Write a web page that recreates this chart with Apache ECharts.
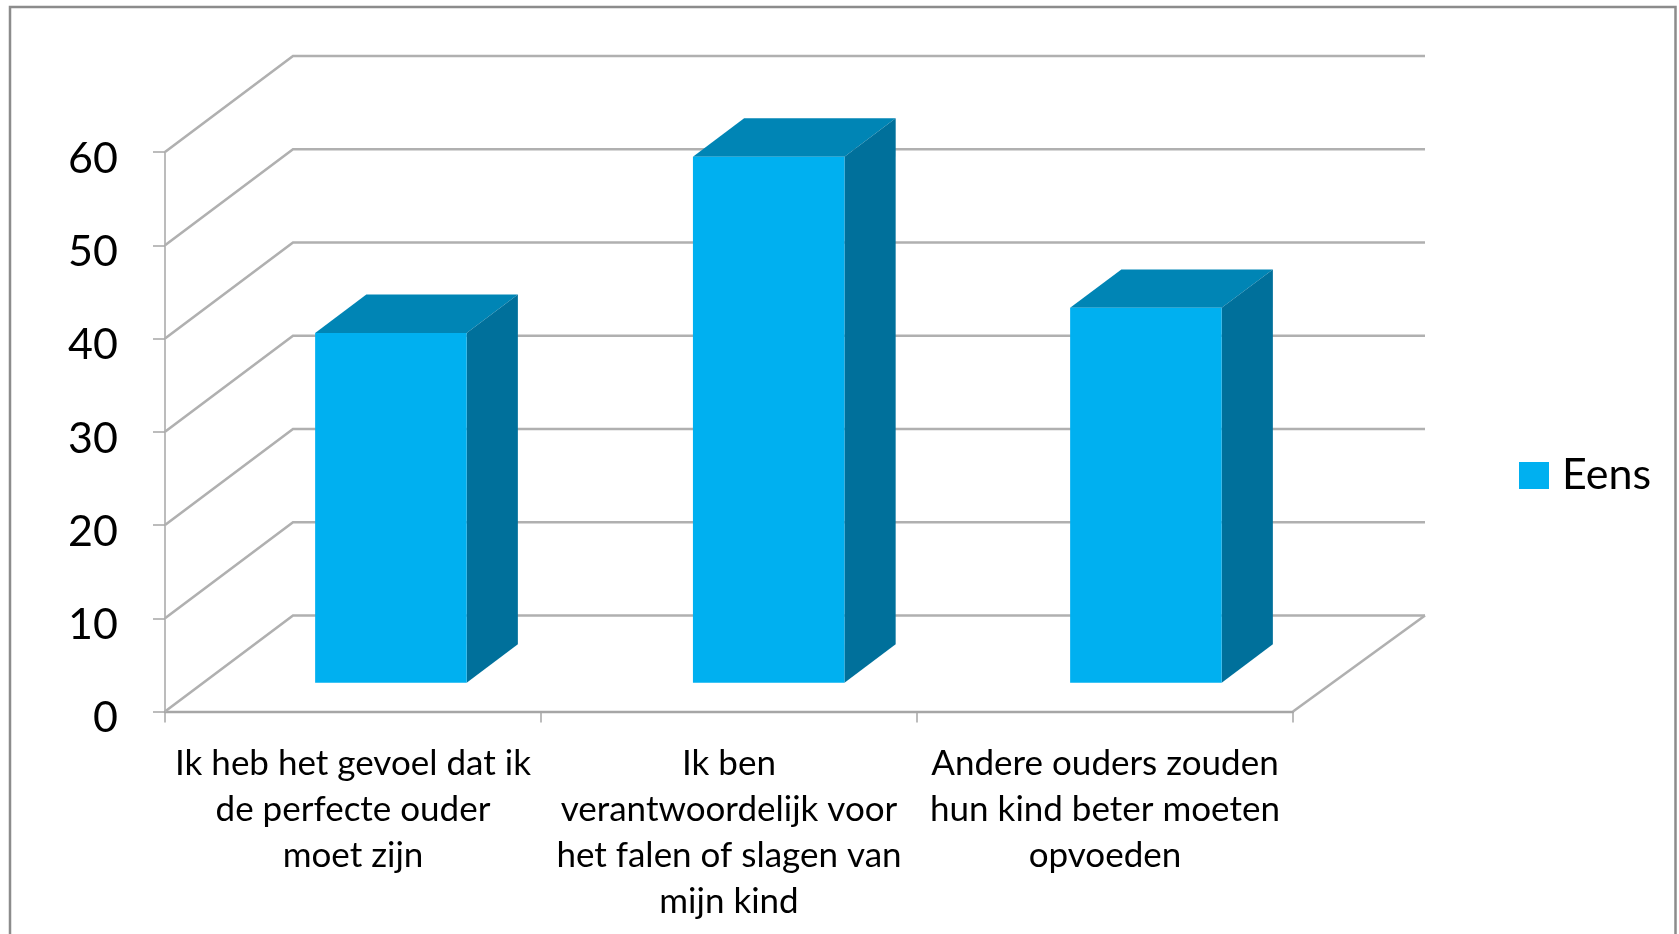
<!DOCTYPE html>
<html>
<head>
<meta charset="utf-8">
<style>html,body{margin:0;padding:0;background:#fff;overflow:hidden}#c{width:1679px;height:934px}</style>
<script src="https://cdn.jsdelivr.net/npm/echarts@6/dist/echarts.min.js"></script>
</head>
<body>
<div id="c"></div>
<script>
const categories = [
  "Ik heb het gevoel dat ik\nde perfecte ouder\nmoet zijn",
  "Ik ben\nverantwoordelijk voor\nhet falen of slagen van\nmijn kind",
  "Andere ouders zouden\nhun kind beter moeten\nopvoeden"
];
const seriesName = "Eens";
const eens = [37.5, 56.4, 40.2];
const yTicks = [0, 10, 20, 30, 40, 50, 60];

const DEPTH_X = 128, DEPTH_Y = 96, RIGHT_EXTRA = 4;
const BAR_START = 0.30, BAR_DEPTH = 0.40, BAR_WIDTH = 0.403, BAR_SPREAD = 1.2;
const GRID_COLOR = '#b0b0b0', AXIS_COLOR = '#a6a6a6';
const FRONT = '#00B0F0', TOP = '#0085B5', SIDE = '#00709B';
const FONT = 'Lato';

const chart = echarts.init(document.getElementById('c'), null, {renderer: 'canvas'});

function wallItem(params, api) {
  const v = api.value(1);
  const band = api.size([1, 0])[0];
  const a = api.coord([0, v]);
  const b = api.coord([categories.length - 1, v]);
  const x0 = a[0] - band / 2, y = a[1], x1 = b[0] + band / 2;
  const bx0 = x0 + DEPTH_X, by = y - DEPTH_Y, bx1 = x1 + DEPTH_X + RIGHT_EXTRA;
  const style = {stroke: GRID_COLOR, lineWidth: 2.6, fill: null};
  const children = [
    {type: 'polyline', shape: {points: [[x0, y], [bx0, by], [bx1, by]]}, style}
  ];
  if (v === 0) {
    children.push({type: 'line', shape: {x1: x1, y1: y, x2: bx1, y2: by}, style});
  }
  return {type: 'group', children};
}

function barItem(params, api) {
  const i = api.value(0), v = api.value(1);
  const band = api.size([1, 0])[0];
  const c0 = api.coord([i, 0]), cv = api.coord([i, v]);
  const w = band * BAR_WIDTH;
  const sx = 39.7 + (i - 1) * BAR_SPREAD + (i === 0 ? -0.6 : 0), sy = DEPTH_Y * BAR_START;
  const dx = DEPTH_X * BAR_DEPTH, dy = DEPTH_Y * BAR_DEPTH;
  const x0 = c0[0] - w / 2 + sx, x1 = x0 + w;
  const yb = c0[1] - sy, yt = cv[1] - sy;
  return {type: 'group', children: [
    {type: 'polygon', shape: {points: [[x0, yt], [x1, yt], [x1 + dx, yt - dy], [x0 + dx, yt - dy]]}, style: {fill: TOP}},
    {type: 'polygon', shape: {points: [[x1, yt], [x1 + dx, yt - dy], [x1 + dx, yb - dy], [x1, yb]]}, style: {fill: SIDE}},
    {type: 'rect', shape: {x: x0, y: yt, width: w, height: yb - yt}, style: {fill: FRONT}}
  ]};
}

chart.setOption({
  animation: false,
  backgroundColor: '#ffffff',
  graphic: [{
    type: 'rect', silent: true, z: -1,
    shape: {x: 10, y: 7, width: 1665.5, height: 1000},
    style: {fill: '#fff', stroke: '#8c8c8c', lineWidth: 2.5}
  }],
  grid: {left: 165, top: 152, width: 1128, height: 559.5, containLabel: false},
  legend: {
    left: 1514, top: 449, orient: 'vertical', icon: 'rect',
    itemWidth: 30, itemHeight: 27, itemGap: 0,
    data: [{name: seriesName, itemStyle: {color: FRONT}}],
    textStyle: {fontFamily: FONT, fontSize: 43, color: '#000', padding: [0, 0, 0, 8]},
    selectedMode: false
  },
  xAxis: {
    type: 'category', data: categories,
    axisLine: {show: true, lineStyle: {color: AXIS_COLOR, width: 2.4}},
    axisTick: {show: true, alignWithLabel: false, length: 11, lineStyle: {color: AXIS_COLOR, width: 1.5}},
    axisLabel: {interval: 0, margin: 29, color: '#000', fontFamily: FONT, fontSize: 35, lineHeight: 46, align: 'center'},
    splitLine: {show: false}
  },
  yAxis: {
    type: 'value', min: 0, max: 60, interval: 10,
    axisLine: {show: true, lineStyle: {color: AXIS_COLOR, width: 1.5}},
    axisTick: {show: true, length: 12, lineStyle: {color: AXIS_COLOR, width: 1.5}},
    axisLabel: {margin: 47, color: '#000', fontFamily: FONT, fontSize: 43, verticalAlign: 'top', lineHeight: 14},
    splitLine: {show: false}
  },
  series: [
    {
      name: 'wall', type: 'custom', coordinateSystem: 'cartesian2d', silent: true, clip: false, z: 1,
      data: yTicks.map(v => [0, v]), encode: {x: 0, y: 1}, renderItem: wallItem
    },
    {
      name: seriesName, type: 'custom', coordinateSystem: 'cartesian2d', silent: true, clip: false, z: 2,
      itemStyle: {color: FRONT},
      data: eens.map((v, i) => [i, v]), encode: {x: 0, y: 1}, renderItem: barItem
    }
  ]
});
</script>
</body>
</html>
